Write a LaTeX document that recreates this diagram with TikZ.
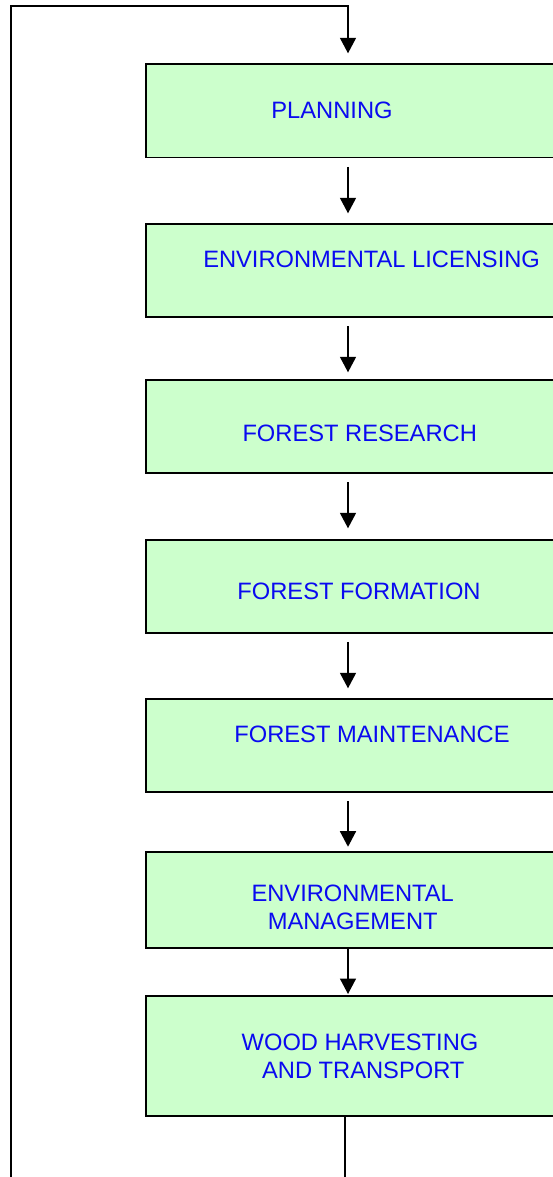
\documentclass[tikz,border=0pt]{standalone}
\usepackage{fontspec}
\setmainfont{Liberation Sans}
\usetikzlibrary{arrows.meta,calc}
\definecolor{boxfill}{HTML}{CCFFCC}
\definecolor{txtblue}{HTML}{0A0AF0}
\tikzset{
  stagebox/.style={draw=black, line width=1.8pt, fill=boxfill, rectangle, anchor=north west, minimum width=420pt, inner sep=0pt},
  stagetext/.style={text=txtblue, font=\fontsize{23.7}{27.7}\selectfont, align=center, inner sep=0pt, anchor=center},
  conn/.style={draw=black, line width=1.6pt},
  arr/.style={conn, -{Triangle[width=16pt,length=15.5pt]}}
}
\begin{document}
\begin{tikzpicture}[x=1pt,y=-1pt]
\useasboundingbox (0,0) rectangle (553,1177);
% boxes
\node[stagebox, minimum height=93.2pt] (b1) at (145,63.5) {};
\node[stagebox, minimum height=92.4pt] (b2) at (145,223.3) {};
\node[stagebox, minimum height=93pt] (b3) at (145,379.3) {};
\node[stagebox, minimum height=93pt] (b4) at (145,538.7) {};
\node[stagebox, minimum height=93pt] (b5) at (145,698) {};
\node[stagebox, minimum height=96.3pt] (b6) at (145,850.7) {};
\node[stagebox, minimum height=120.3pt] (b7) at (145,994.7) {};
% texts
\node[stagetext] (t1) at (332,110.7) {PLANNING};
\node[stagetext] (t2) at (371.6,259.3) {ENVIRONMENTAL LICENSING};
\node[stagetext] (t3) at (359.7,433.3) {FOREST RESEARCH};
\node[stagetext] (t4) at (359,591.7) {FOREST FORMATION};
\node[stagetext] (t5) at (372,734.3) {FOREST MAINTENANCE};
\node[stagetext] (t6) at (352.7,907.2) {ENVIRONMENTAL\\MANAGEMENT};
\node[stagetext] (t7) at (360,1056.2) {WOOD HARVESTING\\\hspace*{6.6pt}AND TRANSPORT};
% axes and loop points
\coordinate (ax) at (348,0);
\coordinate (bx) at (345,0);
\coordinate (loopT) at (11,6);
\coordinate (loopB) at (11,1185);
% feedback loop
\draw[arr] (loopB) -- (loopT) -- (loopT -| ax) -- ($(b1.north -| ax)+(0,-10.2)$);
% stage arrows
\draw[arr] ($(b1.south -| ax)+(0,8.3)$) -- ($(b2.north -| ax)+(0,-10)$);
\draw[arr] ($(b2.south -| ax)+(0,8.6)$) -- ($(b3.north -| ax)+(0,-7)$);
\draw[arr] ($(b3.south -| ax)+(0,8)$) -- ($(b4.north -| ax)+(0,-10.4)$);
\draw[arr] ($(b4.south -| ax)+(0,8.3)$) -- ($(b5.north -| ax)+(0,-9.7)$);
\draw[arr] ($(b5.south -| ax)+(0,8.3)$) -- ($(b6.north -| ax)+(0,-4)$);
\draw[arr] (b6.south -| ax) -- ($(b7.north -| ax)+(0,-0.7)$);
\draw[conn] (b7.south -| bx) -- (bx |- loopB);
\end{tikzpicture}
\end{document}
